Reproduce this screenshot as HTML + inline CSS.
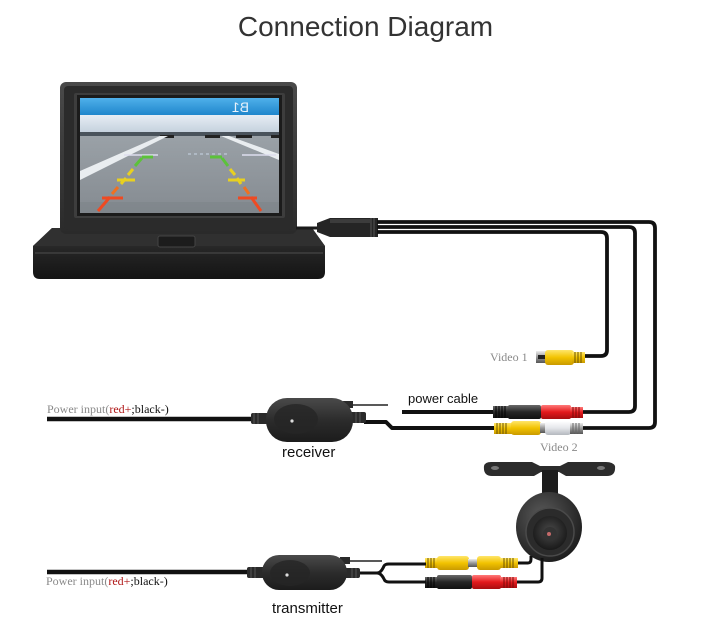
<!DOCTYPE html>
<html>
<head>
<meta charset="utf-8">
<style>
  html,body{margin:0;padding:0;background:#fff;}
  svg{display:block;}
</style>
</head>
<body>
<svg width="701" height="638" viewBox="0 0 701 638" xmlns="http://www.w3.org/2000/svg">
  <defs>
    <linearGradient id="frameG" x1="0" y1="0" x2="0" y2="1">
      <stop offset="0" stop-color="#4a4a4a"/>
      <stop offset="1" stop-color="#2a2a2a"/>
    </linearGradient>
    <linearGradient id="baseG" x1="0" y1="0" x2="0" y2="1">
      <stop offset="0" stop-color="#3a3a3a"/>
      <stop offset="0.4" stop-color="#262626"/>
      <stop offset="1" stop-color="#141414"/>
    </linearGradient>
    <linearGradient id="skyG" x1="0" y1="0" x2="0" y2="1">
      <stop offset="0" stop-color="#4fb0ea"/>
      <stop offset="1" stop-color="#1f86cc"/>
    </linearGradient>
    <linearGradient id="ceilG" x1="0" y1="0" x2="0" y2="1">
      <stop offset="0" stop-color="#e6edf4"/>
      <stop offset="1" stop-color="#c6d2de"/>
    </linearGradient>
    <linearGradient id="roadG" x1="0" y1="0" x2="0" y2="1">
      <stop offset="0" stop-color="#9aa1a7"/>
      <stop offset="1" stop-color="#858b91"/>
    </linearGradient>
    <linearGradient id="boxG" x1="0" y1="0" x2="0" y2="1">
      <stop offset="0" stop-color="#4a4a4a"/>
      <stop offset="0.5" stop-color="#2c2c2c"/>
      <stop offset="1" stop-color="#1c1c1c"/>
    </linearGradient>
    <linearGradient id="yelG" x1="0" y1="0" x2="0" y2="1">
      <stop offset="0" stop-color="#ffe66a"/>
      <stop offset="0.5" stop-color="#f2c300"/>
      <stop offset="1" stop-color="#c99a00"/>
    </linearGradient>
    <linearGradient id="redG" x1="0" y1="0" x2="0" y2="1">
      <stop offset="0" stop-color="#ff7a7a"/>
      <stop offset="0.5" stop-color="#e3191c"/>
      <stop offset="1" stop-color="#a80e10"/>
    </linearGradient>
    <linearGradient id="blkG" x1="0" y1="0" x2="0" y2="1">
      <stop offset="0" stop-color="#6a6a6a"/>
      <stop offset="0.5" stop-color="#252525"/>
      <stop offset="1" stop-color="#111"/>
    </linearGradient>
    <linearGradient id="whtG" x1="0" y1="0" x2="0" y2="1">
      <stop offset="0" stop-color="#ffffff"/>
      <stop offset="0.5" stop-color="#e4e6ea"/>
      <stop offset="1" stop-color="#b4b8be"/>
    </linearGradient>
    <linearGradient id="silG" x1="0" y1="0" x2="0" y2="1">
      <stop offset="0" stop-color="#eee"/>
      <stop offset="0.5" stop-color="#999"/>
      <stop offset="1" stop-color="#555"/>
    </linearGradient>
    <radialGradient id="camG" cx="0.4" cy="0.35" r="0.7">
      <stop offset="0" stop-color="#5a5a5a"/>
      <stop offset="1" stop-color="#1a1a1a"/>
    </radialGradient>
    <radialGradient id="lensG" cx="0.5" cy="0.45" r="0.6">
      <stop offset="0" stop-color="#4a4a4a"/>
      <stop offset="1" stop-color="#151515"/>
    </radialGradient>
    <clipPath id="scr"><rect x="80" y="98" width="199" height="115"/></clipPath>
  </defs>

  <!-- Title -->
  <text x="365.5" y="36" text-anchor="middle" font-family="Liberation Sans, Arial, sans-serif" font-size="28" fill="#333">Connection Diagram</text>

  <!-- Monitor base -->
  <path d="M52 228 L312 228 L325 246 L325 272 Q325 279 318 279 L40 279 Q33 279 33 272 L33 246 Z" fill="url(#baseG)"/>
  <path d="M52 228 L312 228 L325 246 L33 246 Z" fill="#303030"/>
  <line x1="35" y1="253" x2="323" y2="253" stroke="#4e4e4e" stroke-width="1"/>

  <!-- Monitor frame -->
  <rect x="60" y="82" width="237" height="152" rx="6" fill="url(#frameG)"/>
  <rect x="64" y="86" width="229" height="144" rx="4" fill="#2b2b2b"/>
  <rect x="74" y="93" width="211" height="125" rx="2" fill="#3d3d3d"/>
  <rect x="77" y="95" width="205" height="121" fill="#1b1b1b"/>

  <!-- Hinge button -->
  <rect x="158" y="236" width="37" height="11" rx="2" fill="#1c1c1c" stroke="#444" stroke-width="1"/>

  <!-- Screen content -->
  <g clip-path="url(#scr)">
    <rect x="80" y="98" width="199" height="17" fill="url(#skyG)"/>
    <rect x="80" y="115" width="199" height="17" fill="url(#ceilG)"/>
    <rect x="80" y="132" width="199" height="4" fill="#4a535c"/>
    <rect x="80" y="136" width="199" height="77" fill="url(#roadG)"/>
    <rect x="80" y="202" width="199" height="11" fill="#7d8389" opacity="0.6"/>
    <rect x="160" y="135" width="14" height="3" fill="#222"/>
    <rect x="205" y="135" width="15" height="3" fill="#222"/>
    <rect x="236" y="135" width="16" height="3" fill="#222"/>
    <rect x="271" y="135" width="8" height="3" fill="#222"/>
    <text transform="translate(249,112) scale(-1,1)" font-family="Liberation Sans, Arial, sans-serif" font-size="14" fill="#e8f2fb">B1</text>
    <polygon points="80,171 160,136 168,136 80,180" fill="#e9edf0"/>
    <polygon points="221,136 229,136 279,154 279,160" fill="#e9edf0"/>
    <line x1="124" y1="155" x2="158" y2="155" stroke="#dde" stroke-width="1.5"/>
    <line x1="242" y1="155" x2="276" y2="155" stroke="#dde" stroke-width="1.5"/>
    <line x1="188" y1="154" x2="228" y2="154" stroke="#c9d6e6" stroke-width="1" stroke-dasharray="3,3"/>
    <!-- left guide -->
    <g stroke-width="3" stroke-linecap="butt" fill="none">
      <line x1="142" y1="157" x2="153" y2="157" stroke="#5cc23a"/>
      <line x1="142" y1="158" x2="135" y2="166" stroke="#5cc23a"/>
      <line x1="133" y1="169" x2="128" y2="175" stroke="#e8d020"/>
      <line x1="126" y1="178" x2="121" y2="184" stroke="#e8d020"/>
      <line x1="117" y1="180" x2="135" y2="180" stroke="#e8d020"/>
      <line x1="118" y1="187" x2="112" y2="194" stroke="#f07020"/>
      <line x1="110" y1="197" x2="98" y2="211" stroke="#ee4a22"/>
      <line x1="102" y1="198" x2="123" y2="198" stroke="#ee4a22"/>
      <!-- right guide -->
      <line x1="210" y1="157" x2="222" y2="157" stroke="#5cc23a"/>
      <line x1="222" y1="158" x2="228" y2="166" stroke="#5cc23a"/>
      <line x1="230" y1="169" x2="235" y2="175" stroke="#e8d020"/>
      <line x1="237" y1="178" x2="241" y2="184" stroke="#e8d020"/>
      <line x1="228" y1="180" x2="245" y2="180" stroke="#e8d020"/>
      <line x1="244" y1="187" x2="249" y2="194" stroke="#f07020"/>
      <line x1="251" y1="197" x2="261" y2="211" stroke="#ee4a22"/>
      <line x1="238" y1="198" x2="257" y2="198" stroke="#ee4a22"/>
    </g>
  </g>

  <!-- Monitor cable + connector -->
  <line x1="296" y1="228" x2="320" y2="228" stroke="#1a1a1a" stroke-width="3"/>
  <path d="M317 223 L330 218 L378 218 L378 237 L330 237 L317 232 Z" fill="#252525"/>
  <rect x="330" y="219" width="40" height="4" fill="#3c3c3c"/>
  <line x1="371" y1="218" x2="371" y2="237" stroke="#555" stroke-width="1"/>
  <line x1="374" y1="218" x2="374" y2="237" stroke="#555" stroke-width="1"/>

  <!-- Three wires -->
  <g fill="none" stroke="#111" stroke-width="3.8" stroke-linejoin="round">
    <path d="M377 222 H649 Q655 222 655 228 V422 Q655 428 649 428 H582"/>
    <path d="M377 227 H629 Q635 227 635 233 V406 Q635 412 629 412 H582"/>
    <path d="M377 232 H601 Q607 232 607 238 V350 Q607 356 601 356 H583"/>
  </g>

  <!-- Video 1 connector -->
  <rect x="536" y="351" width="10" height="12" fill="url(#silG)"/>
  <rect x="538" y="355" width="8" height="4" fill="#222"/>
  <rect x="545" y="350" width="29" height="15" rx="3" fill="url(#yelG)"/>
  <rect x="572" y="352" width="13" height="11" fill="url(#yelG)"/>
  <g stroke="#6a5200" stroke-width="1">
    <line x1="575" y1="352" x2="575" y2="363"/><line x1="578" y1="352" x2="578" y2="363"/>
    <line x1="581" y1="352" x2="581" y2="363"/>
  </g>
  <text x="490" y="361" font-family="Liberation Serif, Times New Roman, serif" font-size="12" fill="#8a8a8a">Video 1</text>

  <!-- power cable row -->
  <text x="408" y="403" font-family="Liberation Sans, Arial, sans-serif" font-size="13" fill="#111">power cable</text>
  <line x1="402" y1="412" x2="495" y2="412" stroke="#111" stroke-width="4"/>
  <rect x="493" y="406" width="16" height="12" fill="url(#blkG)"/>
  <g stroke="#000" stroke-width="1">
    <line x1="496" y1="406" x2="496" y2="418"/><line x1="499" y1="406" x2="499" y2="418"/>
    <line x1="502" y1="406" x2="502" y2="418"/><line x1="505" y1="406" x2="505" y2="418"/>
  </g>
  <rect x="508" y="405" width="33" height="14" rx="2" fill="url(#blkG)"/>
  <rect x="541" y="405" width="30" height="14" rx="2" fill="url(#redG)"/>
  <rect x="570" y="407" width="13" height="11" fill="url(#redG)"/>
  <g stroke="#7a0a0a" stroke-width="1">
    <line x1="573" y1="407" x2="573" y2="418"/><line x1="576" y1="407" x2="576" y2="418"/>
    <line x1="579" y1="407" x2="579" y2="418"/>
  </g>

  <!-- Video 2 row -->
  <path d="M364 422 H386 L392 428 H496" fill="none" stroke="#111" stroke-width="4" stroke-linejoin="round"/>
  <rect x="494" y="423" width="18" height="11" fill="url(#yelG)"/>
  <g stroke="#6a5200" stroke-width="1">
    <line x1="497" y1="423" x2="497" y2="434"/><line x1="500" y1="423" x2="500" y2="434"/>
    <line x1="503" y1="423" x2="503" y2="434"/><line x1="506" y1="423" x2="506" y2="434"/>
  </g>
  <rect x="511" y="421" width="30" height="14" rx="3" fill="url(#yelG)"/>
  <rect x="540" y="423" width="6" height="10" fill="url(#silG)"/>
  <rect x="545" y="421" width="26" height="14" rx="3" fill="url(#whtG)"/>
  <rect x="570" y="423" width="13" height="11" fill="url(#silG)"/>
  <g stroke="#666" stroke-width="1">
    <line x1="573" y1="423" x2="573" y2="434"/><line x1="576" y1="423" x2="576" y2="434"/>
    <line x1="579" y1="423" x2="579" y2="434"/>
  </g>
  <text x="540" y="451" font-family="Liberation Serif, Times New Roman, serif" font-size="12" fill="#8a8a8a">Video 2</text>

  <!-- Receiver -->
  <line x1="47" y1="419" x2="254" y2="419" stroke="#111" stroke-width="4.5"/>
  <rect x="251" y="413" width="18" height="11" rx="2" fill="#2a2a2a"/>
  <line x1="254" y1="413" x2="254" y2="424" stroke="#555"/><line x1="258" y1="413" x2="258" y2="424" stroke="#555"/>
  <line x1="345" y1="405" x2="388" y2="405" stroke="#222" stroke-width="1.6"/>
  <rect x="343" y="401" width="10" height="7" fill="#2a2a2a"/>
  <rect x="346" y="412" width="20" height="11" rx="2" fill="#2a2a2a"/>
  <line x1="356" y1="412" x2="356" y2="423" stroke="#555"/><line x1="360" y1="412" x2="360" y2="423" stroke="#555"/>
  <rect x="266" y="398" width="87" height="44" rx="21" fill="url(#boxG)"/>
  <ellipse cx="296" cy="419" rx="22" ry="15" fill="#262626" opacity="0.8"/>
  <circle cx="292" cy="421" r="1.6" fill="#ddd"/>
  <text x="282" y="457" font-family="Liberation Sans, Arial, sans-serif" font-size="15" fill="#111">receiver</text>
  <text x="47" y="413" font-family="Liberation Serif, Times New Roman, serif" font-size="12" fill="#8a8a8a">Power input(<tspan fill="#b01818">red+</tspan><tspan fill="#111">;black-)</tspan></text>

  <!-- Camera -->
  <path d="M484 466 Q483 476 492 476 L534 476 L541 472 L559 472 L566 476 L607 476 Q616 476 615 466 Q613 462 606 462 L568 462 L560 466 L540 466 L532 462 L491 462 Q485 462 484 466 Z" fill="#2c2c2c"/>
  <ellipse cx="495" cy="468" rx="4" ry="2" fill="#777"/>
  <ellipse cx="601" cy="468" rx="4" ry="2" fill="#777"/>
  <rect x="542" y="470" width="16" height="30" fill="#1c1c1c"/>
  <ellipse cx="549" cy="527" rx="33" ry="35" fill="url(#camG)"/>
  <circle cx="550" cy="532" r="24" fill="#2b2b2b" stroke="#4a4a4a" stroke-width="1.5"/>
  <circle cx="550" cy="533" r="17" fill="url(#lensG)"/>
  <circle cx="550" cy="534" r="7" fill="#333"/>
  <circle cx="549" cy="534" r="2" fill="#c46a6a"/>

  <!-- Camera cables -->
  <path d="M517 563 H528 Q531 563 531 559 V556" fill="none" stroke="#111" stroke-width="3"/>
  <path d="M516 582 H538 Q542 582 542 578 V558" fill="none" stroke="#111" stroke-width="3"/>

  <!-- yellow row -->
  <rect x="425" y="558" width="13" height="10" fill="url(#yelG)"/>
  <g stroke="#6a5200" stroke-width="1">
    <line x1="428" y1="558" x2="428" y2="568"/><line x1="431" y1="558" x2="431" y2="568"/><line x1="434" y1="558" x2="434" y2="568"/>
  </g>
  <rect x="437" y="556" width="32" height="14" rx="3" fill="url(#yelG)"/>
  <rect x="468" y="559" width="10" height="8" fill="url(#silG)"/>
  <rect x="477" y="556" width="24" height="14" rx="3" fill="url(#yelG)"/>
  <rect x="500" y="558" width="18" height="10" fill="url(#yelG)"/>
  <g stroke="#6a5200" stroke-width="1">
    <line x1="504" y1="558" x2="504" y2="568"/><line x1="507" y1="558" x2="507" y2="568"/>
    <line x1="510" y1="558" x2="510" y2="568"/><line x1="513" y1="558" x2="513" y2="568"/>
  </g>
  <!-- red row -->
  <rect x="425" y="577" width="13" height="11" fill="url(#blkG)"/>
  <g stroke="#000" stroke-width="1">
    <line x1="428" y1="577" x2="428" y2="588"/><line x1="431" y1="577" x2="431" y2="588"/><line x1="434" y1="577" x2="434" y2="588"/>
  </g>
  <rect x="437" y="575" width="35" height="14" rx="2" fill="url(#blkG)"/>
  <rect x="472" y="575" width="29" height="14" rx="2" fill="url(#redG)"/>
  <rect x="500" y="577" width="17" height="11" fill="url(#redG)"/>
  <g stroke="#7a0a0a" stroke-width="1">
    <line x1="504" y1="577" x2="504" y2="588"/><line x1="507" y1="577" x2="507" y2="588"/>
    <line x1="510" y1="577" x2="510" y2="588"/><line x1="513" y1="577" x2="513" y2="588"/>
  </g>

  <!-- Transmitter -->
  <line x1="47" y1="572" x2="250" y2="572" stroke="#111" stroke-width="4.5"/>
  <rect x="247" y="567" width="18" height="11" rx="2" fill="#2a2a2a"/>
  <line x1="251" y1="567" x2="251" y2="578" stroke="#555"/><line x1="255" y1="567" x2="255" y2="578" stroke="#555"/>
  <line x1="342" y1="561" x2="382" y2="561" stroke="#222" stroke-width="1.6"/>
  <rect x="340" y="557" width="10" height="7" fill="#2a2a2a"/>
  <g fill="none" stroke="#111" stroke-width="3" stroke-linejoin="round">
    <path d="M358 573 H377 Q381 573 384 566 Q385 564 389 564 H426"/>
    <path d="M377 573 Q381 573 384 579 Q385 582 389 582 H426"/>
  </g>
  <rect x="342" y="568" width="18" height="10" rx="2" fill="#2a2a2a"/>
  <line x1="352" y1="568" x2="352" y2="578" stroke="#555"/><line x1="356" y1="568" x2="356" y2="578" stroke="#555"/>
  <rect x="262" y="555" width="85" height="35" rx="17" fill="url(#boxG)"/>
  <ellipse cx="290" cy="573" rx="20" ry="13" fill="#262626" opacity="0.8"/>
  <circle cx="287" cy="575" r="1.6" fill="#ddd"/>
  <text x="272" y="613" font-family="Liberation Sans, Arial, sans-serif" font-size="15" fill="#111">transmitter</text>
  <text x="46" y="585" font-family="Liberation Serif, Times New Roman, serif" font-size="12" fill="#8a8a8a">Power input(<tspan fill="#b01818">red+</tspan><tspan fill="#111">;black-)</tspan></text>
</svg>
</body>
</html>
